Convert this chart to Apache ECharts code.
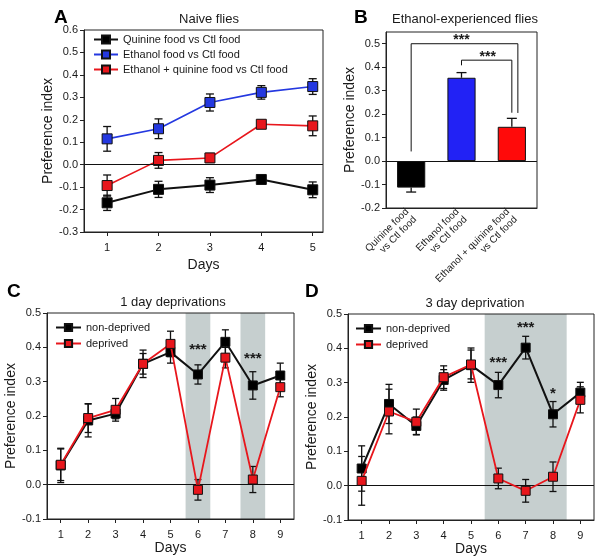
<!DOCTYPE html>
<html>
<head>
<meta charset="utf-8">
<script src="https://cdn.jsdelivr.net/npm/echarts@6/dist/echarts.min.js"></script>
<style>html,body{margin:0;padding:0;background:#fff}#c{width:601px;height:558px}</style>
</head>
<body>
<div id="c"></div>
<script>
// ---------- Panel A: Naive flies ----------
const daysA = [1, 2, 3, 4, 5];
const quinineA = [-0.170, -0.110, -0.091, -0.066, -0.112];
const quinineErrA = [0.034, 0.036, 0.033, 0.016, 0.035];
const ethanolA = [0.115, 0.160, 0.277, 0.322, 0.348];
const ethanolErrA = [0.055, 0.044, 0.038, 0.030, 0.035];
const mixA = [-0.093, 0.019, 0.030, 0.180, 0.173];
const mixErrA = [0.047, 0.035, 0.020, 0.017, 0.044];
const yTicksA = [-0.3, -0.2, -0.1, 0.0, 0.1, 0.2, 0.3, 0.4, 0.5, 0.6];

// ---------- Panel B: Ethanol-experienced flies ----------
const catsB = ['Quinine food\nvs Ctl food', 'Ethanol food\nvs Ctl food', 'Ethanol + quinine food\nvs Ctl food'];
const valsB = [-0.113, 0.355, 0.146];
const errB = [0.019, 0.022, 0.036];
const yTicksB = [-0.2, -0.1, 0.0, 0.1, 0.2, 0.3, 0.4, 0.5];

// ---------- Panel C: 1 day deprivations ----------
const daysCD = [1, 2, 3, 4, 5, 6, 7, 8, 9];
const nonDepC = [0.056, 0.187, 0.207, 0.352, 0.386, 0.321, 0.416, 0.289, 0.318];
const nonDepErrC = [0.050, 0.048, 0.015, 0.030, 0.032, 0.028, 0.035, 0.040, 0.036];
const depC = [0.058, 0.194, 0.218, 0.352, 0.410, -0.015, 0.370, 0.015, 0.284];
const depErrC = [0.046, 0.042, 0.033, 0.040, 0.037, 0.030, 0.030, 0.038, 0.028];
const bandsC = [[5.55, 6.45], [7.55, 8.45]];
const sigC = [[6, 0.392, '***'], [8, 0.366, '***']];

// ---------- Panel D: 3 day deprivation ----------
const nonDepD = [0.050, 0.238, 0.174, 0.308, 0.351, 0.293, 0.402, 0.208, 0.271];
const nonDepErrD = [0.066, 0.057, 0.026, 0.030, 0.050, 0.037, 0.033, 0.037, 0.030];
const depD = [0.014, 0.216, 0.186, 0.316, 0.353, 0.021, -0.015, 0.026, 0.250];
const depErrD = [0.071, 0.065, 0.037, 0.033, 0.042, 0.030, 0.033, 0.043, 0.038];
const bandsD = [[5.5, 8.5]];
const sigD = [[6, 0.358, '***'], [7, 0.460, '***'], [8, 0.268, '*']];
const yTicksCD = [-0.1, 0.0, 0.1, 0.2, 0.3, 0.4, 0.5];

const FONT = 'Liberation Sans, Arial, sans-serif';
const TXT = '#1a1a1a';
const BLUE = '#2438e0';
const RED = '#e8161c';
const BLACK = '#111111';

function errData(xs, ys, es) {
  return xs.map((x, i) => [x, ys[i] - es[i], ys[i] + es[i]]);
}
function errRender(cap, color, width) {
  return function (params, api) {
    const p1 = api.coord([api.value(0), api.value(1)]);
    const p2 = api.coord([api.value(0), api.value(2)]);
    const st = { stroke: color, lineWidth: width };
    return {
      type: 'group',
      children: [
        { type: 'line', shape: { x1: p1[0], y1: p1[1], x2: p2[0], y2: p2[1] }, style: st },
        { type: 'line', shape: { x1: p1[0] - cap, y1: p1[1], x2: p1[0] + cap, y2: p1[1] }, style: st },
        { type: 'line', shape: { x1: p2[0] - cap, y1: p2[1], x2: p2[0] + cap, y2: p2[1] }, style: st }
      ]
    };
  };
}
const sigText = { sigC: sigC.map(d => d[2]), sigD: sigD.map(d => d[2]) };
function textRender(size) {
  return function (params, api) {
    const p = api.coord([api.value(0), api.value(1)]);
    return { type: 'text', x: p[0], y: p[1], style: { text: sigText[params.seriesName][params.dataIndex], fill: TXT, font: 'bold ' + size + 'px ' + FONT, align: 'center', verticalAlign: 'middle' } };
  };
}

function lineSeries(name, xi, xs, ys, color, markerColor, symSize, lw, extra) {
  return Object.assign({
    name: name, type: 'line', xAxisIndex: xi, yAxisIndex: xi,
    data: xs.map((x, i) => [x, ys[i]]),
    symbol: 'rect', symbolSize: symSize, showSymbol: true,
    lineStyle: { color: color, width: lw },
    itemStyle: { color: markerColor, borderColor: '#111', borderWidth: 1 },
    z: 4, animation: false
  }, extra || {});
}
function errSeries(xi, xs, ys, es, cap) {
  return {
    type: 'custom', xAxisIndex: xi, yAxisIndex: xi,
    data: errData(xs, ys, es), renderItem: errRender(cap, '#111', 1.3),
    encode: { x: 0, y: [1, 2] }, z: 3, silent: true, animation: false
  };
}
const zeroLine = {
  silent: true, symbol: 'none', label: { show: false },
  lineStyle: { color: '#111', width: 1, type: 'solid' },
  data: [{ yAxis: 0 }], animation: false
};

function valueYAxis(gi, min, max, ticks, nameGap) {
  return {
    type: 'value', gridIndex: gi, min: min, max: max, interval: 0.1,
    name: 'Preference index', nameLocation: 'middle', nameGap: nameGap, nameRotate: 90,
    nameTextStyle: { fontFamily: FONT, fontSize: 14, color: TXT },
    axisLine: { show: true, onZero: false, lineStyle: { color: '#222', width: 1 } },
    axisTick: { show: true, length: 4, inside: false, customValues: ticks, lineStyle: { color: '#222' } },
    axisLabel: { customValues: ticks, formatter: v => (Math.abs(v) < 1e-9 ? 0 : v).toFixed(1), fontFamily: FONT, fontSize: 11, color: TXT, margin: 6 },
    splitLine: { show: false }
  };
}
function dayXAxis(gi, min, max, ticks, nameGap) {
  return {
    type: 'value', gridIndex: gi, min: min, max: max,
    name: 'Days', nameLocation: 'middle', nameGap: nameGap,
    nameTextStyle: { fontFamily: FONT, fontSize: 14, color: TXT },
    axisLine: { show: true, onZero: false, lineStyle: { color: '#222', width: 1 } },
    axisTick: { show: true, length: 4, customValues: ticks, lineStyle: { color: '#222' } },
    axisLabel: { customValues: ticks, fontFamily: FONT, fontSize: 11, color: TXT, margin: 10 },
    splitLine: { show: false }
  };
}

const gridBase = { show: true, borderColor: '#222', borderWidth: 1, backgroundColor: 'transparent', z: 10 };
const legendText = { fontFamily: FONT, fontSize: 11, color: TXT };
const letterStyle = { fontSize: 19, fontWeight: 'bold', color: '#000', fontFamily: FONT };
const titleStyle = { fontSize: 13, fontWeight: 'normal', color: TXT, fontFamily: FONT };

const option = {
  backgroundColor: '#fff',
  animation: false,
  textStyle: { fontFamily: FONT },
  title: [
    { text: 'A', left: 49, top: 3, textStyle: letterStyle },
    { text: 'Naive flies', left: 204, top: 8, textAlign: 'center', textStyle: titleStyle },
    { text: 'B', left: 349, top: 3, textStyle: letterStyle },
    { text: 'Ethanol-experienced flies', left: 460, top: 8, textAlign: 'center', textStyle: titleStyle },
    { text: 'C', left: 2, top: 277, textStyle: letterStyle },
    { text: '1 day deprivations', left: 168, top: 291, textAlign: 'center', textStyle: titleStyle },
    { text: 'D', left: 300, top: 277, textStyle: letterStyle },
    { text: '3 day deprivation', left: 470, top: 292, textAlign: 'center', textStyle: titleStyle }
  ],
  legend: [
    { orient: 'vertical', left: 88, top: 29, itemWidth: 24, itemHeight: 10, itemGap: 4,
      data: ['Quinine food vs Ctl food', 'Ethanol food vs Ctl food', 'Ethanol + quinine food vs Ctl food'],
      textStyle: legendText, selectedMode: false },
    { orient: 'vertical', left: 50, top: 317, itemWidth: 25, itemHeight: 9, itemGap: 5,
      data: ['non-deprived', 'deprived'],
      textStyle: legendText, selectedMode: false },
    { orient: 'vertical', left: 350, top: 318, itemWidth: 25, itemHeight: 9, itemGap: 5,
      data: ['non-deprived ', 'deprived '],
      textStyle: legendText, selectedMode: false }
  ],
  grid: [
    Object.assign({ left: 84, top: 30, width: 239, height: 202 }, gridBase),
    Object.assign({ left: 386, top: 32, width: 151, height: 176 }, gridBase),
    Object.assign({ left: 47, top: 313, width: 247, height: 206 }, gridBase),
    Object.assign({ left: 348, top: 314, width: 246, height: 206 }, gridBase)
  ],
  xAxis: [
    dayXAxis(0, 0.55, 5.2, daysA, 26),
    {
      type: 'category', gridIndex: 1, data: catsB,
      axisLine: { show: true, onZero: false, lineStyle: { color: '#222' } },
      axisTick: { show: false },
      axisLabel: { interval: 0, rotate: 45, fontFamily: FONT, fontSize: 10, lineHeight: 11, color: TXT, margin: 6, align: 'right' }
    },
    dayXAxis(2, 0.5, 9.5, daysCD, 20),
    dayXAxis(3, 0.5, 9.5, daysCD, 20)
  ],
  yAxis: [
    valueYAxis(0, -0.3, 0.6, yTicksA, 25),
    valueYAxis(1, -0.2, 0.55, yTicksB, 19),
    valueYAxis(2, -0.1, 0.5, yTicksCD, 28),
    valueYAxis(3, -0.1, 0.5, yTicksCD, 28)
  ],
  series: [
    // ---- A ----
    errSeries(0, daysA, quinineA, quinineErrA, 4),
    errSeries(0, daysA, ethanolA, ethanolErrA, 4),
    errSeries(0, daysA, mixA, mixErrA, 4),
    lineSeries('Quinine food vs Ctl food', 0, daysA, quinineA, BLACK, '#000', 10, 2, { markLine: zeroLine }),
    lineSeries('Ethanol food vs Ctl food', 0, daysA, ethanolA, BLUE, BLUE, 10, 1.6),
    lineSeries('Ethanol + quinine food vs Ctl food', 0, daysA, mixA, RED, RED, 10, 1.6),
    // ---- B ----
    {
      type: 'bar', xAxisIndex: 1, yAxisIndex: 1, barWidth: '56%',
      data: valsB.map((v, i) => ({ value: v, itemStyle: { color: ['#000000', '#2222f5', '#ff0a0a'][i] } })),
      itemStyle: { borderColor: '#111', borderWidth: 1 },
      markLine: zeroLine, z: 2, animation: false
    },
    {
      type: 'custom', xAxisIndex: 1, yAxisIndex: 1, z: 3, silent: true, animation: false,
      data: valsB.map((v, i) => [i, v, v + (v < 0 ? -errB[i] : errB[i])]),
      renderItem: function (params, api) {
        const p1 = api.coord([api.value(0), api.value(1)]);
        const p2 = api.coord([api.value(0), api.value(2)]);
        const st = { stroke: '#111', lineWidth: 1.3 };
        return { type: 'group', children: [
          { type: 'line', shape: { x1: p1[0], y1: p1[1], x2: p2[0], y2: p2[1] }, style: st },
          { type: 'line', shape: { x1: p2[0] - 5, y1: p2[1], x2: p2[0] + 5, y2: p2[1] }, style: st }
        ] };
      }
    },
    {
      // significance brackets: [leftCat, leftStartY, topY, rightCat, rightEndY, rightOffsetFrac, starsCat, starsOffsetFrac, starsY]
      type: 'custom', xAxisIndex: 1, yAxisIndex: 1, z: 3, silent: true, animation: false,
      data: [[0, 0.041, 0.50, 2, 0.205, 0.12, 1, 0, 0.522], [1, 0.408, 0.43, 2, 0.206, 0, 1, 0.52, 0.452]],
      renderItem: function (params, api) {
        const bw = api.size([1, 0])[0];
        const l0 = api.coord([api.value(0), api.value(1)]);
        const lt = api.coord([api.value(0), api.value(2)]);
        const r0 = api.coord([api.value(3), api.value(4)]);
        const rx = r0[0] + api.value(5) * bw;
        const s = api.coord([api.value(6), api.value(8)]);
        return { type: 'group', children: [
          { type: 'polyline', shape: { points: [[l0[0], l0[1]], [lt[0], lt[1]], [rx, lt[1]], [rx, r0[1]]] }, style: { stroke: '#111', lineWidth: 1, fill: null } },
          { type: 'text', x: s[0] + api.value(7) * bw, y: s[1] + 2, style: { text: '***', fill: TXT, font: 'bold 14px ' + FONT, align: 'center', verticalAlign: 'middle' } }
        ] };
      }
    },
    // ---- C ----
    errSeries(2, daysCD, nonDepC, nonDepErrC, 3.5),
    errSeries(2, daysCD, depC, depErrC, 3.5),
    lineSeries('non-deprived', 2, daysCD, nonDepC, BLACK, '#000', 9, 2, {
      markLine: zeroLine,
      markArea: { silent: true, itemStyle: { color: '#c6cfcf' }, data: bandsC.map(b => [{ xAxis: b[0] }, { xAxis: b[1] }]) },
      z: 4
    }),
    lineSeries('deprived', 2, daysCD, depC, RED, RED, 9, 1.8, { z: 5 }),
    { name: 'sigC', type: 'custom', xAxisIndex: 2, yAxisIndex: 2, data: sigC.map(d => [d[0], d[1]]), renderItem: textRender(15), z: 6, silent: true, animation: false },
    // ---- D ----
    errSeries(3, daysCD, nonDepD, nonDepErrD, 3.5),
    errSeries(3, daysCD, depD, depErrD, 3.5),
    lineSeries('non-deprived ', 3, daysCD, nonDepD, BLACK, '#000', 9, 2, {
      markLine: zeroLine,
      markArea: { silent: true, itemStyle: { color: '#c6cfcf' }, data: bandsD.map(b => [{ xAxis: b[0] }, { xAxis: b[1] }]) },
      z: 4
    }),
    lineSeries('deprived ', 3, daysCD, depD, RED, RED, 9, 1.8, { z: 5 }),
    { name: 'sigD', type: 'custom', xAxisIndex: 3, yAxisIndex: 3, data: sigD.map(d => [d[0], d[1]]), renderItem: textRender(15), z: 6, silent: true, animation: false }
  ]
};

const chart = echarts.init(document.getElementById('c'), null, { renderer: 'canvas' });
chart.setOption(option);
</script>
</body>
</html>
